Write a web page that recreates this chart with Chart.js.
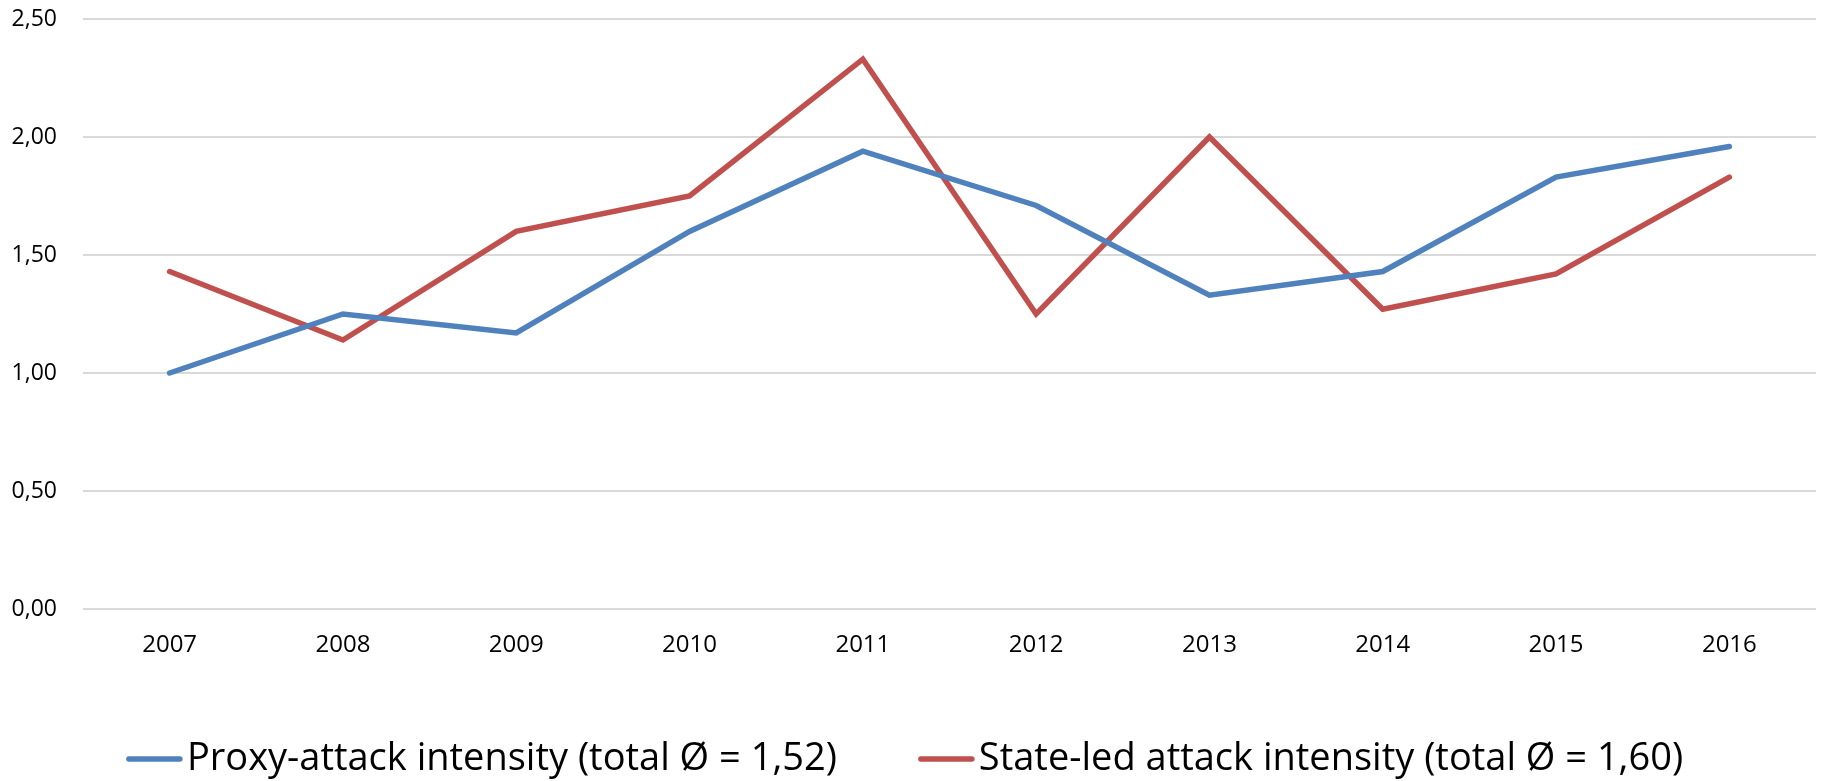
<!DOCTYPE html>
<html>
<head>
<meta charset="utf-8">
<script src="https://cdn.jsdelivr.net/npm/chart.js@4/dist/chart.umd.min.js"></script>
<style>
  html, body { margin: 0; padding: 0; background: #fff; }
  #wrap { width: 1822px; height: 781px; }
</style>
</head>
<body>
<div id="wrap"><canvas id="c" width="1822" height="781"></canvas></div>
<script>
// Attack intensity per year
const years = ['2007', '2008', '2009', '2010', '2011', '2012', '2013', '2014', '2015', '2016'];
const proxyIntensity = [1.00, 1.25, 1.17, 1.60, 1.94, 1.71, 1.33, 1.43, 1.83, 1.96];
const stateLedIntensity = [1.43, 1.14, 1.60, 1.75, 2.33, 1.25, 2.00, 1.27, 1.42, 1.83];
const seriesNames = [
  'Proxy-attack intensity (total \u00D8 = 1,52)',
  'State-led attack intensity (total \u00D8 = 1,60)'
];
const seriesColors = ['#4F81BD', '#C0504D'];
const yTicks = { min: 0, max: 2.5, step: 0.5 };

// Legend drawn below the axis: short thick line followed by the label
const lineLegend = {
  id: 'lineLegend',
  afterDraw(chart) {
    const ctx = chart.ctx;
    const sets = chart.data.datasets;
    const fontPx = 38;
    const swatch = 55, swatchGap = 5, itemGap = 82;
    ctx.save();
    ctx.font = fontPx + 'px "Open Sans"';
    const widths = sets.map(d => ctx.measureText(d.label).width);
    let total = 0;
    widths.forEach((w, i) => { total += swatch + swatchGap + w + (i ? itemGap : 0); });
    let x = 905 - total / 2;
    const y = 759;
    sets.forEach((d, i) => {
      ctx.strokeStyle = d.borderColor;
      ctx.lineWidth = 5.5;
      ctx.lineCap = 'round';
      ctx.beginPath();
      ctx.moveTo(x + 2, y);
      ctx.lineTo(x + swatch - 2, y);
      ctx.stroke();
      ctx.fillStyle = '#000';
      ctx.textBaseline = 'middle';
      ctx.textAlign = 'left';
      ctx.fillText(d.label, x + swatch + swatchGap, y);
      x += swatch + swatchGap + widths[i] + itemGap;
    });
    ctx.restore();
  }
};

const mkSet = (label, data, color) => ({
  label, data,
  borderColor: color,
  backgroundColor: color,
  borderWidth: 5.5,
  pointRadius: 0,
  pointHoverRadius: 0,
  tension: 0,
  borderCapStyle: 'round',
  borderJoinStyle: 'miter',
  fill: false
});

new Chart(document.getElementById('c'), {
  type: 'line',
  data: {
    labels: years,
    datasets: [
      mkSet(seriesNames[0], proxyIntensity, seriesColors[0]),
      mkSet(seriesNames[1], stateLedIntensity, seriesColors[1])
    ]
  },
  options: {
    responsive: false,
    animation: false,
    devicePixelRatio: 1,
    layout: { padding: { top: 19, left: 12, right: 6, bottom: 122 } },
    plugins: {
      legend: { display: false },
      tooltip: { enabled: false }
    },
    scales: {
      x: {
        offset: true,
        grid: { display: false, drawTicks: false },
        border: { display: false },
        ticks: {
          color: '#000',
          padding: 22,
          maxRotation: 0,
          font: { family: '"Open Sans"', size: 24 }
        },
        afterFit(s) {
          s.height = 50;
          s.paddingLeft = 0;
          s.paddingRight = 0;
        }
      },
      y: {
        min: yTicks.min,
        max: yTicks.max,
        grid: { color: '#d9d9d9', lineWidth: 2, drawTicks: false },
        border: { display: false },
        ticks: {
          stepSize: yTicks.step,
          color: '#000',
          padding: 26,
          font: { family: '"Open Sans"', size: 23 },
          callback: v => v.toFixed(2).replace('.', ',')
        },
        afterFit(s) {
          s.width = 71;
          s.paddingTop = 0;
          s.paddingBottom = 0;
        }
      }
    }
  },
  plugins: [lineLegend]
});
</script>
</body>
</html>
